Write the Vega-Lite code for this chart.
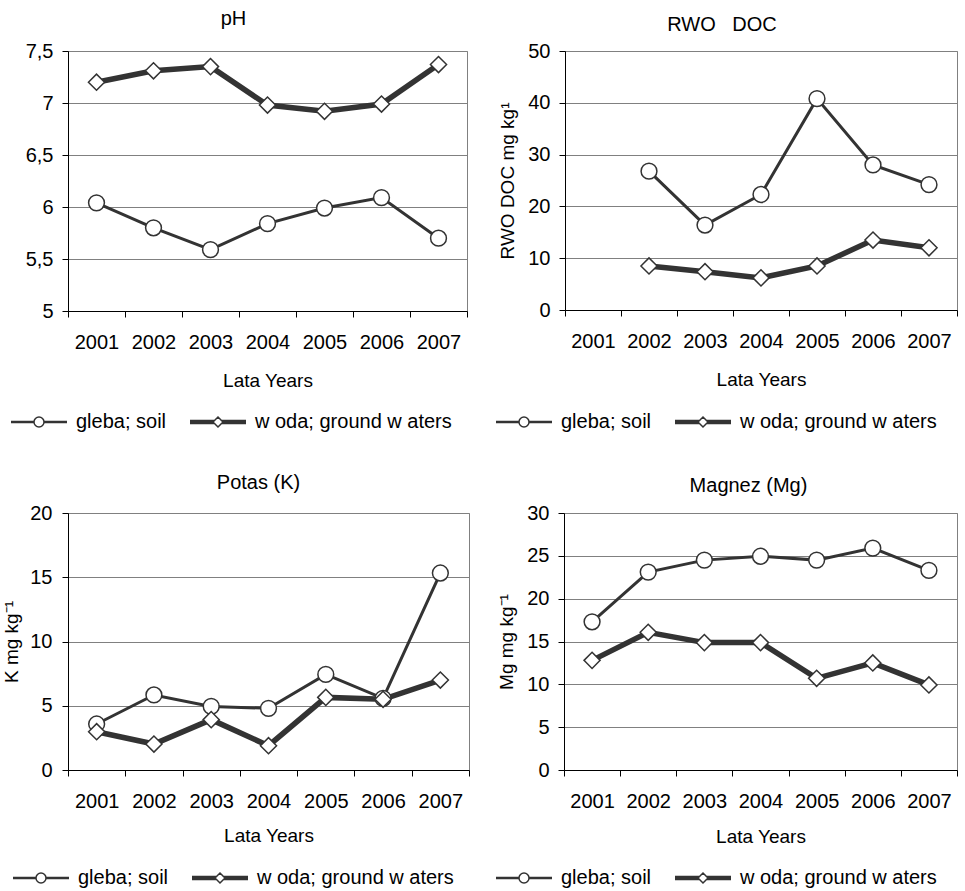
{
  "$schema": "https://vega.github.io/schema/vega-lite/v6.json",
  "background": "white",
  "padding": {"left": 2, "top": 8, "right": 2, "bottom": 2},
  "data": {"values": [
    {"panel": "pH", "year": "2001", "series": "gleba; soil", "value": 6.04},
    {"panel": "pH", "year": "2002", "series": "gleba; soil", "value": 5.80},
    {"panel": "pH", "year": "2003", "series": "gleba; soil", "value": 5.59},
    {"panel": "pH", "year": "2004", "series": "gleba; soil", "value": 5.84},
    {"panel": "pH", "year": "2005", "series": "gleba; soil", "value": 5.99},
    {"panel": "pH", "year": "2006", "series": "gleba; soil", "value": 6.09},
    {"panel": "pH", "year": "2007", "series": "gleba; soil", "value": 5.70},
    {"panel": "pH", "year": "2001", "series": "w oda; ground w aters", "value": 7.20},
    {"panel": "pH", "year": "2002", "series": "w oda; ground w aters", "value": 7.31},
    {"panel": "pH", "year": "2003", "series": "w oda; ground w aters", "value": 7.35},
    {"panel": "pH", "year": "2004", "series": "w oda; ground w aters", "value": 6.98},
    {"panel": "pH", "year": "2005", "series": "w oda; ground w aters", "value": 6.92},
    {"panel": "pH", "year": "2006", "series": "w oda; ground w aters", "value": 6.99},
    {"panel": "pH", "year": "2007", "series": "w oda; ground w aters", "value": 7.37},
    {"panel": "RWO", "year": "2002", "series": "gleba; soil", "value": 26.8},
    {"panel": "RWO", "year": "2003", "series": "gleba; soil", "value": 16.4},
    {"panel": "RWO", "year": "2004", "series": "gleba; soil", "value": 22.3},
    {"panel": "RWO", "year": "2005", "series": "gleba; soil", "value": 40.8},
    {"panel": "RWO", "year": "2006", "series": "gleba; soil", "value": 28.0},
    {"panel": "RWO", "year": "2007", "series": "gleba; soil", "value": 24.2},
    {"panel": "RWO", "year": "2002", "series": "w oda; ground w aters", "value": 8.5},
    {"panel": "RWO", "year": "2003", "series": "w oda; ground w aters", "value": 7.4},
    {"panel": "RWO", "year": "2004", "series": "w oda; ground w aters", "value": 6.2},
    {"panel": "RWO", "year": "2005", "series": "w oda; ground w aters", "value": 8.5},
    {"panel": "RWO", "year": "2006", "series": "w oda; ground w aters", "value": 13.5},
    {"panel": "RWO", "year": "2007", "series": "w oda; ground w aters", "value": 12.0},
    {"panel": "K", "year": "2001", "series": "gleba; soil", "value": 3.58},
    {"panel": "K", "year": "2002", "series": "gleba; soil", "value": 5.84},
    {"panel": "K", "year": "2003", "series": "gleba; soil", "value": 4.95},
    {"panel": "K", "year": "2004", "series": "gleba; soil", "value": 4.8},
    {"panel": "K", "year": "2005", "series": "gleba; soil", "value": 7.44},
    {"panel": "K", "year": "2006", "series": "gleba; soil", "value": 5.58},
    {"panel": "K", "year": "2007", "series": "gleba; soil", "value": 15.33},
    {"panel": "K", "year": "2001", "series": "w oda; ground w aters", "value": 2.98},
    {"panel": "K", "year": "2002", "series": "w oda; ground w aters", "value": 2.02},
    {"panel": "K", "year": "2003", "series": "w oda; ground w aters", "value": 3.92},
    {"panel": "K", "year": "2004", "series": "w oda; ground w aters", "value": 1.89},
    {"panel": "K", "year": "2005", "series": "w oda; ground w aters", "value": 5.65},
    {"panel": "K", "year": "2006", "series": "w oda; ground w aters", "value": 5.5},
    {"panel": "K", "year": "2007", "series": "w oda; ground w aters", "value": 7.0},
    {"panel": "Mg", "year": "2001", "series": "gleba; soil", "value": 17.3},
    {"panel": "Mg", "year": "2002", "series": "gleba; soil", "value": 23.1},
    {"panel": "Mg", "year": "2003", "series": "gleba; soil", "value": 24.5},
    {"panel": "Mg", "year": "2004", "series": "gleba; soil", "value": 24.95},
    {"panel": "Mg", "year": "2005", "series": "gleba; soil", "value": 24.5},
    {"panel": "Mg", "year": "2006", "series": "gleba; soil", "value": 25.9},
    {"panel": "Mg", "year": "2007", "series": "gleba; soil", "value": 23.3},
    {"panel": "Mg", "year": "2001", "series": "w oda; ground w aters", "value": 12.8},
    {"panel": "Mg", "year": "2002", "series": "w oda; ground w aters", "value": 16.07},
    {"panel": "Mg", "year": "2003", "series": "w oda; ground w aters", "value": 14.87},
    {"panel": "Mg", "year": "2004", "series": "w oda; ground w aters", "value": 14.87},
    {"panel": "Mg", "year": "2005", "series": "w oda; ground w aters", "value": 10.7},
    {"panel": "Mg", "year": "2006", "series": "w oda; ground w aters", "value": 12.5},
    {"panel": "Mg", "year": "2007", "series": "w oda; ground w aters", "value": 9.93}
  ]},
  "vconcat": [
    {
      "hconcat": [
        {
          "title": {"text": "pH", "offset": 12, "dx": -34},
          "width": 399, "height": 260,
          "transform": [{"filter": "datum.panel === 'pH'"}],
          "encoding": {
            "x": {"field": "year", "type": "ordinal", "scale": {"type": "band", "paddingInner": 0, "paddingOuter": 0, "domain": ["2001","2002","2003","2004","2005","2006","2007"]}, "axis": {"title": "Lata Years", "titlePadding": 19}},
            "y": {"field": "value", "type": "quantitative", "scale": {"domain": [5, 7.5], "nice": false, "zero": false}, "axis": {"title": null, "values": [5, 5.5, 6, 6.5, 7, 7.5], "labelExpr": "replace(format(datum.value, '~g'), '.', ',')"}}
          },
          "layer": [
            {"mark": {"type": "point", "filled": false, "stroke": "#333333", "strokeWidth": 1.5, "opacity": 0},
             "encoding": {
               "shape": {"field": "series", "type": "nominal",
                 "scale": {"domain": ["gleba; soil", "w oda; ground w aters"], "range": ["M-2.8,-0.06H-0.5M-2.8,0.06H-0.5M0.5,-0.06H2.8M0.5,0.06H2.8M-0.5,0A0.5,0.5,0,1,1,0.5,0A0.5,0.5,0,1,1,-0.5,0Z", "M-2.8,-0.16H-0.34M-2.8,0H-0.5M-2.8,0.16H-0.34M0.34,-0.16H2.8M0.5,0H2.8M0.34,0.16H2.8M-0.5,0L0,-0.5L0.5,0L0,0.5Z"]},
                 "legend": {"orient": "none", "legendX": -58, "legendY": 360, "direction": "horizontal",
                   "encode": {"symbols": {"update": {"fill": {"value": "white"}, "stroke": {"value": "#333333"}, "strokeWidth": {"value": 1.5}, "opacity": {"value": 1}, "fillOpacity": {"value": 1}, "strokeOpacity": {"value": 1}, "size": {"value": 400}}}}}}
             }},
            {"mark": {"type": "line", "color": "#333333"}, "encoding": {"detail": {"field": "series"}, "strokeWidth": {"condition": {"test": "datum.series === 'gleba; soil'", "value": 3}, "value": 5.5}}},
            {"mark": {"type": "point", "filled": true, "fill": "white", "stroke": "#333333", "strokeWidth": 1.5, "opacity": 1},
             "encoding": {
               "shape": {"condition": {"test": "datum.series === 'gleba; soil'", "value": "circle"}, "value": "diamond"},
               "size": {"condition": {"test": "datum.series === 'gleba; soil'", "value": 250}, "value": 260}
             }}
          ]
        },
        {
          "title": {"text": "RWO\u00a0\u00a0\u00a0DOC", "offset": 6, "dx": -39},
          "width": 392, "height": 259,
          "transform": [{"filter": "datum.panel === 'RWO'"}],
          "encoding": {
            "x": {"field": "year", "type": "ordinal", "scale": {"type": "band", "paddingInner": 0, "paddingOuter": 0, "domain": ["2001","2002","2003","2004","2005","2006","2007"]}, "axis": {"title": "Lata Years", "titlePadding": 19}},
            "y": {"field": "value", "type": "quantitative", "scale": {"domain": [0, 50], "nice": false}, "axis": {"title": "RWO DOC mg kg¹", "values": [0, 10, 20, 30, 40, 50]}}
          },
          "layer": [
            {"mark": {"type": "point", "filled": false, "stroke": "#333333", "strokeWidth": 1.5, "opacity": 0},
             "encoding": {
               "shape": {"field": "series", "type": "nominal",
                 "scale": {"domain": ["gleba; soil", "w oda; ground w aters"], "range": ["M-2.8,-0.06H-0.5M-2.8,0.06H-0.5M0.5,-0.06H2.8M0.5,0.06H2.8M-0.5,0A0.5,0.5,0,1,1,0.5,0A0.5,0.5,0,1,1,-0.5,0Z", "M-2.8,-0.16H-0.34M-2.8,0H-0.5M-2.8,0.16H-0.34M0.34,-0.16H2.8M0.5,0H2.8M0.34,0.16H2.8M-0.5,0L0,-0.5L0.5,0L0,0.5Z"]},
                 "legend": {"orient": "none", "legendX": -70, "legendY": 360, "direction": "horizontal",
                   "encode": {"symbols": {"update": {"fill": {"value": "white"}, "stroke": {"value": "#333333"}, "strokeWidth": {"value": 1.5}, "opacity": {"value": 1}, "fillOpacity": {"value": 1}, "strokeOpacity": {"value": 1}, "size": {"value": 400}}}}}}
             }},
            {"mark": {"type": "line", "color": "#333333"}, "encoding": {"detail": {"field": "series"}, "strokeWidth": {"condition": {"test": "datum.series === 'gleba; soil'", "value": 3}, "value": 5.5}}},
            {"mark": {"type": "point", "filled": true, "fill": "white", "stroke": "#333333", "strokeWidth": 1.5, "opacity": 1},
             "encoding": {
               "shape": {"condition": {"test": "datum.series === 'gleba; soil'", "value": "circle"}, "value": "diamond"},
               "size": {"condition": {"test": "datum.series === 'gleba; soil'", "value": 250}, "value": 260}
             }}
          ]
        }
      ],
      "bounds": "flush",
      "spacing": 98,
      "resolve": {"scale": {"shape": "independent"}, "legend": {"shape": "independent"}}
    },
    {
      "hconcat": [
        {
          "title": {"text": "Potas (K)", "offset": 10, "dx": -10},
          "width": 401, "height": 257,
          "transform": [{"filter": "datum.panel === 'K'"}],
          "encoding": {
            "x": {"field": "year", "type": "ordinal", "scale": {"type": "band", "paddingInner": 0, "paddingOuter": 0, "domain": ["2001","2002","2003","2004","2005","2006","2007"]}, "axis": {"title": "Lata Years", "titlePadding": 15}},
            "y": {"field": "value", "type": "quantitative", "scale": {"domain": [0, 20], "nice": false}, "axis": {"title": "K mg kg⁻¹", "values": [0, 5, 10, 15, 20], "titlePadding": 8, "labelPadding": 10}}
          },
          "layer": [
            {"mark": {"type": "point", "filled": false, "stroke": "#333333", "strokeWidth": 1.5, "opacity": 0},
             "encoding": {
               "shape": {"field": "series", "type": "nominal",
                 "scale": {"domain": ["gleba; soil", "w oda; ground w aters"], "range": ["M-2.8,-0.06H-0.5M-2.8,0.06H-0.5M0.5,-0.06H2.8M0.5,0.06H2.8M-0.5,0A0.5,0.5,0,1,1,0.5,0A0.5,0.5,0,1,1,-0.5,0Z", "M-2.8,-0.16H-0.34M-2.8,0H-0.5M-2.8,0.16H-0.34M0.34,-0.16H2.8M0.5,0H2.8M0.34,0.16H2.8M-0.5,0L0,-0.5L0.5,0L0,0.5Z"]},
                 "legend": {"orient": "none", "legendX": -56, "legendY": 354, "direction": "horizontal",
                   "encode": {"symbols": {"update": {"fill": {"value": "white"}, "stroke": {"value": "#333333"}, "strokeWidth": {"value": 1.5}, "opacity": {"value": 1}, "fillOpacity": {"value": 1}, "strokeOpacity": {"value": 1}, "size": {"value": 400}}}}}}
             }},
            {"mark": {"type": "line", "color": "#333333"}, "encoding": {"detail": {"field": "series"}, "strokeWidth": {"condition": {"test": "datum.series === 'gleba; soil'", "value": 3}, "value": 5.5}}},
            {"mark": {"type": "point", "filled": true, "fill": "white", "stroke": "#333333", "strokeWidth": 1.5, "opacity": 1},
             "encoding": {
               "shape": {"condition": {"test": "datum.series === 'gleba; soil'", "value": "circle"}, "value": "diamond"},
               "size": {"condition": {"test": "datum.series === 'gleba; soil'", "value": 250}, "value": 260}
             }}
          ]
        },
        {
          "title": {"text": "Magnez (Mg)", "offset": 7, "dx": -12},
          "width": 393, "height": 257,
          "transform": [{"filter": "datum.panel === 'Mg'"}],
          "encoding": {
            "x": {"field": "year", "type": "ordinal", "scale": {"type": "band", "paddingInner": 0, "paddingOuter": 0, "domain": ["2001","2002","2003","2004","2005","2006","2007"]}, "axis": {"title": "Lata Years", "titlePadding": 16}},
            "y": {"field": "value", "type": "quantitative", "scale": {"domain": [0, 30], "nice": false}, "axis": {"title": "Mg mg kg⁻¹", "values": [0, 5, 10, 15, 20, 25, 30]}}
          },
          "layer": [
            {"mark": {"type": "point", "filled": false, "stroke": "#333333", "strokeWidth": 1.5, "opacity": 0},
             "encoding": {
               "shape": {"field": "series", "type": "nominal",
                 "scale": {"domain": ["gleba; soil", "w oda; ground w aters"], "range": ["M-2.8,-0.06H-0.5M-2.8,0.06H-0.5M0.5,-0.06H2.8M0.5,0.06H2.8M-0.5,0A0.5,0.5,0,1,1,0.5,0A0.5,0.5,0,1,1,-0.5,0Z", "M-2.8,-0.16H-0.34M-2.8,0H-0.5M-2.8,0.16H-0.34M0.34,-0.16H2.8M0.5,0H2.8M0.34,0.16H2.8M-0.5,0L0,-0.5L0.5,0L0,0.5Z"]},
                 "legend": {"orient": "none", "legendX": -69, "legendY": 354, "direction": "horizontal",
                   "encode": {"symbols": {"update": {"fill": {"value": "white"}, "stroke": {"value": "#333333"}, "strokeWidth": {"value": 1.5}, "opacity": {"value": 1}, "fillOpacity": {"value": 1}, "strokeOpacity": {"value": 1}, "size": {"value": 400}}}}}}
             }},
            {"mark": {"type": "line", "color": "#333333"}, "encoding": {"detail": {"field": "series"}, "strokeWidth": {"condition": {"test": "datum.series === 'gleba; soil'", "value": 3}, "value": 5.5}}},
            {"mark": {"type": "point", "filled": true, "fill": "white", "stroke": "#333333", "strokeWidth": 1.5, "opacity": 1},
             "encoding": {
               "shape": {"condition": {"test": "datum.series === 'gleba; soil'", "value": "circle"}, "value": "diamond"},
               "size": {"condition": {"test": "datum.series === 'gleba; soil'", "value": 250}, "value": 260}
             }}
          ]
        }
      ],
      "bounds": "flush",
      "spacing": 95,
      "resolve": {"scale": {"shape": "independent"}, "legend": {"shape": "independent"}}
    }
  ],
  "spacing": 39,
  "resolve": {"scale": {"shape": "independent"}, "legend": {"shape": "independent"}},
  "config": {
    "font": "Liberation Sans",
    "view": {"stroke": "#808080", "strokeWidth": 1},
    "title": {"font": "Liberation Sans", "fontSize": 20, "fontWeight": "normal", "color": "#000000"},
    "axis": {"labelFont": "Liberation Sans", "labelFontSize": 20, "labelColor": "#000000", "titleFont": "Liberation Sans", "titleFontSize": 19, "titleFontWeight": "normal", "titleColor": "#000000", "domainColor": "#000000", "tickColor": "#000000", "gridColor": "#808080", "gridOpacity": 1, "tickSize": 6},
    "axisX": {"grid": false, "labelAngle": 0, "tickBand": "extent", "labelPadding": 15},
    "axisY": {"grid": true, "labelPadding": 9, "titlePadding": 10},
    "legend": {
      "title": null,
      "labelFont": "Liberation Sans", "labelFontSize": 20, "labelColor": "#000000", "labelLimit": 400,
      "symbolSize": 400, "symbolStrokeWidth": 1.5, "symbolStrokeColor": "#333333", "symbolFillColor": "white", "symbolOpacity": 1,
      "labelOffset": 26, "symbolOffset": 18, "columnPadding": 20
    },
    "mark": {"color": "#333333"}
  }
}
